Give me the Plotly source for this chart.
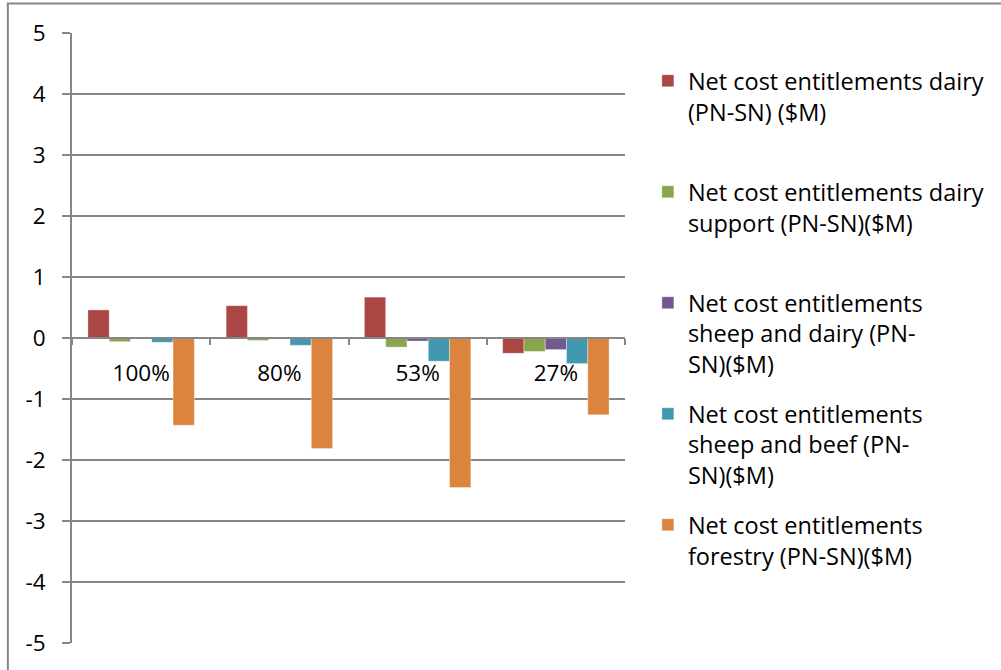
import plotly.graph_objects as go

# categories on the x axis
categories = ["100%", "80%", "53%", "27%"]

# series ($M)
dairy = [0.46, 0.53, 0.67, -0.25]
dairy_support = [-0.06, -0.04, -0.15, -0.22]
sheep_dairy = [-0.01, -0.01, -0.05, -0.19]
sheep_beef = [-0.07, -0.12, -0.38, -0.42]
forestry = [-1.43, -1.81, -2.45, -1.26]

# y tick labels, Excel style (plain hyphen for negatives)
y_ticks = [-5, -4, -3, -2, -1, 0, 1, 2, 3, 4, 5]
y_tick_text = ["-5", "-4", "-3", "-2", "-1", "0", "1", "2", "3", "4", "5"]

series_names = [
    "Net cost entitlements dairy<br>(PN-SN) ($M)",
    "Net cost entitlements dairy<br>support (PN-SN)($M)",
    "Net cost entitlements<br>sheep and dairy (PN-<br>SN)($M)",
    "Net cost entitlements<br>sheep and beef (PN-<br>SN)($M)",
    "Net cost entitlements<br>forestry (PN-SN)($M)",
]
series_values = [dairy, dairy_support, sheep_dairy, sheep_beef, forestry]
colors = ["#AA4643", "#89A54E", "#71588F", "#4198AF", "#DB843D"]
legend_ids = ["legend", "legend2", "legend3", "legend4", "legend5"]

FONT = "Open Sans"
FS = 22.5       # axis labels
FS_LEG = 23.5   # legend text
W, H = 1001, 670
L, R, T, B = 72, 373, 33, 27
pw, ph = W - L - R, H - T - B


def px_x(px):
    return (px - L) / pw


def px_y(py):
    return (H - B - py) / ph


fig = go.Figure()

for name, vals, col, lg in zip(series_names, series_values, colors, legend_ids):
    fig.add_trace(go.Bar(
        x=categories,
        y=vals,
        name=name,
        marker=dict(color=col, line=dict(color="rgba(255,255,255,0.35)", width=1)),
        legend=lg,
    ))

# legends: one per series so they keep Excel's even spacing
legend_tops = [81, 192, 303, 414, 525]
legends = {}
for lg, top in zip(legend_ids, legend_tops):
    legends[lg] = dict(
        x=px_x(651), y=px_y(top - 22),
        xanchor="left", yanchor="top",
        font=dict(family=FONT, size=FS_LEG, color="#000000"),
        bgcolor="rgba(0,0,0,0)",
        valign="top",
        itemclick=False,
    )

fig.update_layout(
    width=W, height=H,
    margin=dict(l=L, r=R, t=T, b=B),
    paper_bgcolor="white",
    plot_bgcolor="white",
    barmode="group",
    bargap=0.23,
    bargroupgap=0,
    font=dict(family=FONT, size=FS, color="#000000"),
    showlegend=True,
    **legends,
    xaxis=dict(
        type="category",
        anchor="free",
        position=0.5,
        showline=True, linecolor="#868686", linewidth=2,
        ticks="outside", tickson="boundaries", ticklen=6,
        tickcolor="#868686", tickwidth=2,
        showgrid=False,
        ticklabelstandoff=15,
        tickfont=dict(family=FONT, size=FS, color="#000000"),
    ),
    yaxis=dict(
        range=[-5, 5],
        tickvals=y_ticks, ticktext=y_tick_text,
        showline=True, linecolor="#868686", linewidth=2,
        ticks="outside", ticklen=8, tickcolor="#868686", tickwidth=2,
        showgrid=True, gridcolor="#868686", gridwidth=1.5,
        zeroline=False,
        ticklabelstandoff=12,
        tickfont=dict(family=FONT, size=FS, color="#000000"),
    ),
    shapes=[dict(
        type="rect", xref="paper", yref="paper",
        x0=px_x(7.5), x1=px_x(1010), y0=px_y(680), y1=px_y(3.5),
        line=dict(color="#868686", width=2), fillcolor="rgba(0,0,0,0)",
        layer="below",
    )],
)

fig.write_html(
    "out.html",
    config={"displayModeBar": False},
    post_script="document.body.style.margin='0';",
)
